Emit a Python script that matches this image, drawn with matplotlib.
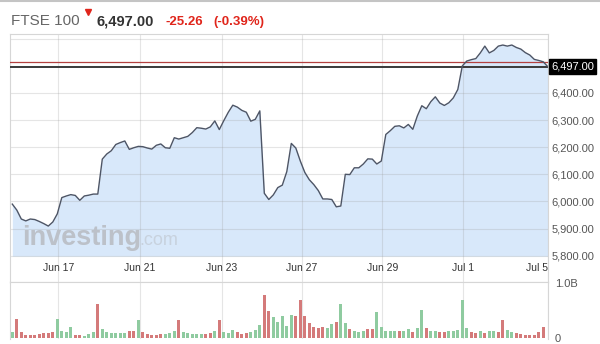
import matplotlib
matplotlib.use('Agg')
import matplotlib.pyplot as plt
import matplotlib.transforms as mtransforms
from matplotlib.lines import Line2D
import numpy as np

# ---------------- data ----------------
title_name = "FTSE 100"
last_text = "6,497.00"
change_text = "-25.26"
pct_text = "(-0.39%)"
last_price = 6497.00
prev_close = 6516.0

price = [5990, 5968, 5935, 5928, 5935, 5933, 5926, 5918, 5909, 5924,
         5954, 6014, 6020, 6025, 6022, 6004, 6020, 6023, 6027, 6027,
         6156, 6175, 6187, 6210, 6217, 6223, 6192, 6198, 6203, 6202,
         6197, 6193, 6207, 6212, 6198, 6196, 6235, 6230, 6235, 6240,
         6254, 6272, 6270, 6267, 6275, 6297, 6265, 6298, 6329, 6355,
         6348, 6336, 6329, 6296, 6303, 6334, 6030, 6007, 6024, 6051,
         6060, 6110, 6214, 6197, 6149, 6107, 6080, 6062, 6040, 6009,
         6009, 6007, 5980, 5983, 6100, 6099, 6124, 6124, 6138, 6157,
         6156, 6138, 6149, 6247, 6261, 6277, 6279, 6271, 6284, 6266,
         6315, 6353, 6342, 6368, 6386, 6363, 6354, 6364, 6382, 6413,
         6500, 6518, 6523, 6527, 6548, 6573, 6548, 6557, 6573, 6577,
         6573, 6577, 6568, 6562, 6549, 6540, 6524, 6520, 6515, 6497]

volume_m = [124, 352, 111, 56, 56, 56, 74, 93, 93, 111,
            352, 130, 111, 204, 56, 56, 37, 74, 111, 630,
            167, 111, 93, 93, 93, 93, 130, 130, 333, 111,
            74, 56, 56, 74, 74, 93, 130, 333, 111, 93,
            74, 74, 74, 74, 93, 130, 333, 111, 93, 148,
            111, 74, 93, 111, 148, 241, 777, 500, 389, 296,
            407, 222, 426, 407, 703, 407, 278, 204, 185, 204,
            185, 259, 296, 630, 278, 167, 130, 111, 130, 167,
            167, 481, 204, 130, 130, 130, 130, 130, 167, 111,
            185, 518, 185, 130, 130, 111, 111, 130, 130, 148,
            703, 185, 111, 93, 130, 93, 130, 130, 111, 333,
            148, 111, 93, 74, 56, 56, 56, 111, 204]

vol_up = [1, 0, 0, 0, 0, 0, 0, 0, 0, 0,
          1, 1, 1, 1, 0, 0, 1, 1, 1, 0,
          1, 1, 1, 1, 1, 1, 0, 0, 1, 0,
          0, 0, 0, 0, 1, 1, 1, 0, 1, 1,
          1, 1, 1, 0, 0, 1, 0, 1, 1, 1,
          0, 0, 0, 1, 1, 1, 0, 0, 1, 1,
          1, 1, 1, 0, 0, 0, 0, 0, 0, 0,
          1, 1, 0, 1, 1, 0, 1, 1, 1, 0,
          0, 1, 1, 1, 1, 1, 0, 1, 1, 0,
          1, 1, 0, 1, 1, 0, 0, 1, 1, 1,
          1, 1, 0, 0, 1, 0, 1, 1, 0, 0,
          1, 1, 0, 0, 0, 0, 0, 0, 0]

date_labels = ["Jun 17", "Jun 21", "Jun 23", "Jun 27", "Jun 29", "Jul 1", "Jul 5"]
date_pos = [10.2, 28.4, 46.6, 64.4, 82.2, 100.1, 119.0]
price_ticks = [5800, 5900, 6000, 6100, 6200, 6300, 6400]
grid_levels = [5800, 5900, 6000, 6100, 6200, 6300, 6400, 6500, 6600]
vol_ticks = [0, 1.0e9]
vol_tick_labels = ["0", "1.0B"]

# ---------------- figure ----------------
plt.rcParams['font.family'] = ['Liberation Sans', 'DejaVu Sans']
W, H = 600, 344
fig = plt.figure(figsize=(6.0, 3.44), dpi=100)
fig.patch.set_facecolor('white')


def fx(px):
    return px / W


def fy(py):
    return 1 - py / H


SPINE = '#d6d6d6'
GRIDC = (0.6, 0.6, 0.6, 0.25)

# price panel
ax = fig.add_axes([fx(10), fy(282), fx(538), (282 - 34) / H])
x = np.arange(len(price))
ax.set_xlim(-0.51, 119.04)
ax.set_ylim(5702.6, 6617.7)
ax.fill_between(x, price, 5798, color='#d8e8fa', lw=0, zorder=1)
for g in grid_levels:
    ax.axhline(g, color=GRIDC, lw=0.8, zorder=2)
for p in date_pos:
    ax.axvline(p, color=GRIDC, lw=0.8, zorder=2)
ax.axhline(prev_close, color='#b3403f', lw=0.9, zorder=3)
ax.axhline(last_price, color='#3a3a3a', lw=1.4, zorder=3)
ax.plot(x, price, color='#4d5566', lw=1.0, zorder=4)

ax.set_xticks(date_pos)
ax.set_xticklabels(date_labels)
ax.tick_params(axis='x', length=0, pad=-13.5, labelsize=7.5, labelcolor='#333333')
xl = ax.get_xticklabels()
xl[-1].set_horizontalalignment('right')

ax.yaxis.tick_right()
ax.set_yticks(price_ticks)
ax.set_yticklabels([f"{v:,.2f}" for v in price_ticks])
ax.tick_params(axis='y', length=0, pad=2.5, labelsize=8, labelcolor='#555555')
for s in ax.spines.values():
    s.set_color(SPINE)
    s.set_linewidth(0.8)

trans = mtransforms.blended_transform_factory(ax.transAxes, ax.transData)
ax.text(1.0 + 3 / 538, last_price, last_text, transform=trans, ha='left', va='center',
        fontsize=8, color='white', clip_on=False, zorder=6,
        bbox=dict(boxstyle='square,pad=0.2', fc='black', ec='black'))

# watermark
fig.text(fx(22), fy(245), "investing", fontsize=19.5, weight='bold', color='#bcc1c9',
         va='baseline', ha='left')
fig.text(fx(139), fy(245), ".com", fontsize=13, color='#c8d2de', va='baseline', ha='left')

# volume panel
vax = fig.add_axes([fx(10), fy(339), fx(538), (339 - 282) / H])
vx = np.arange(len(volume_m))
colors = ['#8fcba0' if u else '#d47a7a' for u in vol_up]
vax.bar(vx, np.array(volume_m) * 1e6, width=0.6, color=colors, zorder=3)
vax.set_xlim(-0.51, 119.04)
vax.set_ylim(-0.01e9, 1.02e9)
for p in date_pos:
    vax.axvline(p, color=GRIDC, lw=0.8, zorder=1)
vax.set_xticks([])
vax.yaxis.tick_right()
vax.set_yticks(vol_ticks)
vax.set_yticklabels(vol_tick_labels)
vax.tick_params(axis='y', length=0, pad=5, labelsize=8, labelcolor='#555555')
for k, s in vax.spines.items():
    s.set_color(SPINE)
    s.set_linewidth(0.8)
vax.spines['bottom'].set_visible(False)

# header
fig.add_artist(Line2D([0, 1], [fy(0.5), fy(0.5)], transform=fig.transFigure,
                      color='#c4c4c4', lw=1.5))
fig.text(fx(11), fy(25), title_name, fontsize=11, color='#666666', va='baseline', ha='left')
fig.add_artist(Line2D([fx(88)], [fy(12)], transform=fig.transFigure, marker='v',
                      color='#e0251b', markersize=4.5, lw=0))
fig.text(fx(97), fy(25), last_text, fontsize=10.5, weight='bold', color='#333333',
         va='baseline', ha='left')
fig.text(fx(165), fy(25), change_text, fontsize=9.5, weight='bold', color='#e0251b',
         va='baseline', ha='left')
fig.text(fx(213), fy(25), pct_text, fontsize=9.5, weight='bold', color='#e0251b',
         va='baseline', ha='left')

fig.savefig('out.png', dpi=100, facecolor='white')
